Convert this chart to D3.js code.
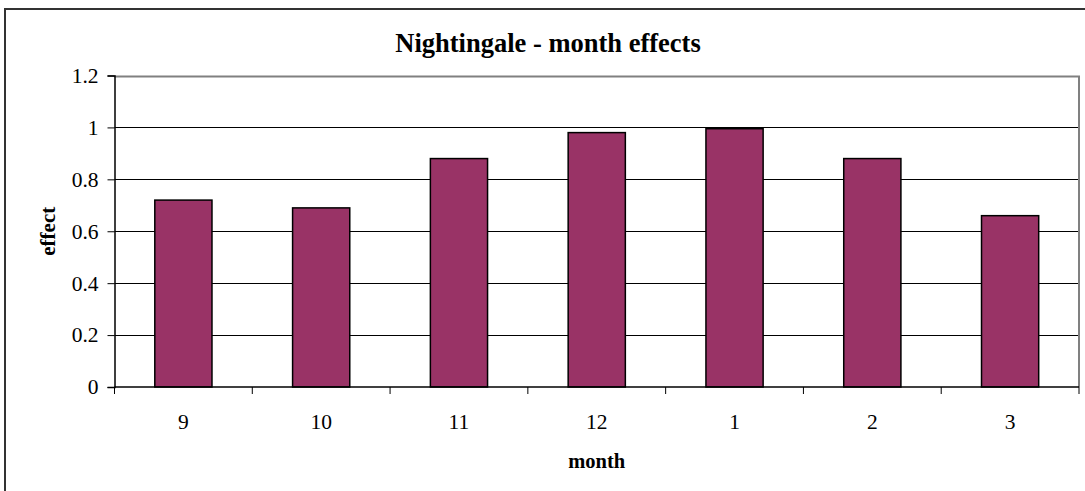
<!DOCTYPE html>
<html>
<head>
<meta charset="utf-8">
<script src="https://cdn.jsdelivr.net/npm/d3@7"></script>
<style>
  html, body { margin: 0; padding: 0; background: #fff; }
  svg { display: block; }
  text { font-family: "Liberation Serif", "Times New Roman", serif; fill: #000; }
</style>
</head>
<body>
<svg id="chart" width="1085" height="491"></svg>
<script>
// Month effects (Sep .. Mar)
const months = ["9", "10", "11", "12", "1", "2", "3"];
const effects = [0.72, 0.69, 0.88, 0.98, 0.995, 0.88, 0.66];
const yTicks = [0, 0.2, 0.4, 0.6, 0.8, 1, 1.2];

const svg = d3.select("#chart");
const plot = { left: 114.5, right: 1079, top: 75.5, bottom: 387 };

// chart frame (continues past the right and bottom edges)
svg.append("rect")
  .attr("x", 5).attr("y", 9)
  .attr("width", 1086).attr("height", 600)
  .attr("fill", "#fff").attr("stroke", "#333").attr("stroke-width", 2);

const x = d3.scaleBand().domain(months).range([plot.left, plot.right]).paddingInner(0).paddingOuter(0);
const y = d3.scaleLinear().domain([0, 1.2]).range([plot.bottom, plot.top]);
const barW = x.bandwidth() * 0.415;

// gridlines
svg.append("g")
  .selectAll("line")
  .data(yTicks.filter(d => d > 0 && d < 1.2))
  .join("line")
  .attr("x1", plot.left).attr("x2", plot.right)
  .attr("y1", d => Math.round(y(d)) + 0.5).attr("y2", d => Math.round(y(d)) + 0.5)
  .attr("stroke", "#000").attr("stroke-width", 1);

// plot area border (top and right)
svg.append("path")
  .attr("d", `M${plot.left},${Math.round(plot.top) + 0.5}H${plot.right}V${plot.bottom}`)
  .attr("fill", "none").attr("stroke", "#808080").attr("stroke-width", 2);

// bars
svg.append("g")
  .selectAll("rect")
  .data(months.map((m, i) => ({ m, v: effects[i] })))
  .join("rect")
  .attr("x", d => x(d.m) + (x.bandwidth() - barW) / 2)
  .attr("y", d => y(d.v))
  .attr("width", barW)
  .attr("height", d => y(0) - y(d.v))
  .attr("fill", "#993366")
  .attr("stroke", "#000").attr("stroke-width", 1.5);

// y axis
const yAxis = d3.axisLeft(y).tickValues(yTicks).tickSize(7).tickPadding(9)
  .tickFormat(d => String(d));
const gy = svg.append("g").attr("transform", `translate(${plot.left},0)`).call(yAxis);
gy.attr("font-family", null).attr("font-size", null);
gy.select(".domain").attr("stroke", "#000").attr("stroke-width", 1.5);
gy.selectAll(".tick line").attr("stroke", "#000");
gy.selectAll(".tick text")
  .attr("font-size", 21.5).attr("fill", "#000");

// x axis with ticks between categories
const xAxisG = svg.append("g").attr("transform", `translate(0,${plot.bottom})`);
xAxisG.append("line")
  .attr("x1", plot.left).attr("x2", plot.right)
  .attr("y1", 0).attr("y2", 0)
  .attr("stroke", "#000").attr("stroke-width", 1.5);
const bounds = months.map(m => x(m)).concat([plot.right]);
xAxisG.selectAll("line.tk")
  .data(bounds)
  .join("line").attr("class", "tk")
  .attr("x1", d => d).attr("x2", d => d)
  .attr("y1", 0).attr("y2", 7)
  .attr("stroke", "#000");
xAxisG.selectAll("text")
  .data(months)
  .join("text")
  .attr("x", d => x(d) + x.bandwidth() / 2)
  .attr("y", 42)
  .attr("text-anchor", "middle")
  .attr("font-size", 21.5)
  .text(d => d);

// titles
svg.append("text")
  .attr("x", 548).attr("y", 52)
  .attr("text-anchor", "middle")
  .attr("font-size", 26.5).attr("font-weight", "bold")
  .text("Nightingale - month effects");

svg.append("text")
  .attr("x", (plot.left + plot.right) / 2).attr("y", 468)
  .attr("text-anchor", "middle")
  .attr("font-size", 20.5).attr("font-weight", "bold")
  .text("month");

svg.append("text")
  .attr("transform", `translate(55,${(plot.top + plot.bottom) / 2}) rotate(-90)`)
  .attr("text-anchor", "middle")
  .attr("font-size", 21).attr("font-weight", "bold")
  .text("effect");
</script>
</body>
</html>
